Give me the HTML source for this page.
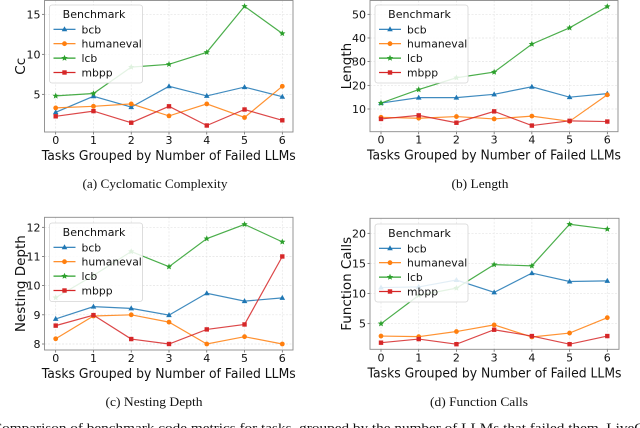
<!DOCTYPE html>
<html><head><meta charset="utf-8">
<style>
html,body{margin:0;padding:0;background:#fff;width:640px;height:428px;overflow:hidden}
svg{display:block}
.t{font-family:"DejaVu Sans","Liberation Sans",sans-serif;fill:#111}
.s{font-family:"Liberation Serif",serif;fill:#111}
</style></head><body>
<svg id="fig" width="640" height="428" viewBox="0 0 640 428" xmlns="http://www.w3.org/2000/svg"></svg>
<script>
const categories = [0,1,2,3,4,5,6];
const seriesNames = ["bcb","humaneval","lcb","mbpp"];
const seriesColors = ["#1f77b4","#ff7f0e","#2ca02c","#d62728"];
// (a) Cyclomatic Complexity
const ccBcb = [2.75,4.75,3.4,6.0,4.8,5.9,4.7];
const ccHumaneval = [3.3,3.5,3.8,2.3,3.8,2.1,6.0];
const ccLcb = [4.8,5.1,8.4,8.75,10.25,16.0,12.6];
const ccMbpp = [2.25,2.9,1.45,3.5,1.1,3.1,1.75];
const ccTicks = [5,10,15];
// (b) Length
const lenBcb = [12.5,14.8,14.8,16.2,19.4,15.0,16.5];
const lenHumaneval = [6.5,6.1,6.8,5.8,7.0,4.8,16.0];
const lenLcb = [12.5,18.2,23.2,25.6,37.4,44.3,53.3];
const lenMbpp = [5.8,7.3,4.2,9.0,3.0,5.0,4.7];
const lenTicks = [10,20,30,40,50];
// (c) Nesting Depth
const ndBcb = [8.86,9.28,9.22,8.99,9.74,9.47,9.58];
const ndHumaneval = [8.18,8.96,9.0,8.75,8.0,8.25,8.0];
const ndLcb = [9.59,10.35,11.17,10.65,11.61,12.1,11.5];
const ndMbpp = [8.63,8.99,8.17,8.0,8.5,8.67,11.0];
const ndTicks = [8,9,10,11,12];
// (d) Function Calls
const fcBcb = [11.0,11.1,12.25,10.2,13.4,12.0,12.1];
const fcHumaneval = [2.95,2.85,3.7,4.8,2.8,3.45,6.0];
const fcLcb = [5.0,9.7,10.9,14.8,14.6,21.5,20.7];
const fcMbpp = [1.85,2.45,1.6,4.0,2.95,1.6,2.95];
const fcTicks = [5,10,15,20];

const NS="http://www.w3.org/2000/svg";
const svg=document.getElementById('fig');
function mk(tag,attrs,parent){const e=document.createElementNS(NS,tag);for(const k in attrs)e.setAttribute(k,attrs[k]);(parent||svg).appendChild(e);return e;}

const panels=[
 {id:"cc",ylabel:"Cc",caption:"(a) Cyclomatic Complexity",capw:145,series:[ccBcb,ccHumaneval,ccLcb,ccMbpp],ticks:ccTicks,
  box:[44.5,0.5,293,132],x0:55.7,x6:282.3,yv:[5,10],yp:[94.3,54.3],cap:[155,188],leg:[49.5,5,93,78],ylx:20},
 {id:"len",ylabel:"Length",caption:"(b) Length",capw:57,series:[lenBcb,lenHumaneval,lenLcb,lenMbpp],ticks:lenTicks,
  box:[370,0.5,618,131.7],x0:381,x6:607.3,yv:[10,50],yp:[109,14.3],cap:[480,188],leg:[375,5,93,78],ylx:346},
 {id:"nd",ylabel:"Nesting Depth",caption:"(c) Nesting Depth",capw:97,series:[ndBcb,ndHumaneval,ndLcb,ndMbpp],ticks:ndTicks,
  box:[44.5,217.3,293,350],x0:55.7,x6:282.3,yv:[8,12],yp:[344,227.3],cap:[154,406],leg:[49.5,223,93,78.5],ylx:20},
 {id:"fc",ylabel:"Function Calls",caption:"(d) Function Calls",capw:98,series:[fcBcb,fcHumaneval,fcLcb,fcMbpp],ticks:fcTicks,
  box:[370,218.3,619,349.3],x0:381,x6:607.3,yv:[5,20],yp:[323.7,233.3],cap:[479,406],leg:[375,224,93,78],ylx:346}
];

function marker(g,kind,x,y,c){
  let m;
  if(kind===0){m=mk('polygon',{points:`${x},${y-3} ${x-2.8},${y+2} ${x+2.8},${y+2}`,fill:c},g);}
  else if(kind===1){m=mk('circle',{cx:x,cy:y,r:2.4,fill:c},g);}
  else if(kind===2){const p=[];for(let i=0;i<10;i++){const r=i%2?1.5:3.3,a=-Math.PI/2+i*Math.PI/5;p.push((x+r*Math.cos(a)).toFixed(2)+','+(y+r*Math.sin(a)).toFixed(2));}m=mk('polygon',{points:p.join(' '),fill:c},g);}
  else {m=mk('rect',{x:x-2.2,y:y-2.2,width:4.4,height:4.4,fill:c},g);}
  
  
}

panels.forEach(p=>{
  const g=mk('g',{});
  
  
  const [bx0,by0,bx1,by1]=p.box;
  const xs=i=>p.x0+(p.x6-p.x0)*i/6;
  const k=(p.yp[1]-p.yp[0])/(p.yv[1]-p.yv[0]);
  const ys=v=>p.yp[0]+(v-p.yv[0])*k;
  categories.forEach((c,i)=>{const l=mk('line',{x1:xs(i),x2:xs(i),y1:by0,y2:by1,stroke:'#e4e4e4','stroke-width':0.7,'stroke-dasharray':'2,1.5'},g);
    
    const t=mk('text',{x:xs(i),y:by1+12,'text-anchor':'middle','font-size':11,class:'t'},g);t.textContent=c;
    
    mk('line',{x1:xs(i),x2:xs(i),y1:by1,y2:by1+2.5,stroke:'#555','stroke-width':0.7},g);});
  p.ticks.forEach(v=>{const y=ys(v);const l=mk('line',{x1:bx0,x2:bx1,y1:y,y2:y,stroke:'#e4e4e4','stroke-width':0.7,'stroke-dasharray':'2,1.5'},g);
    
    mk('line',{x1:bx0-2.5,x2:bx0,y1:y,y2:y,stroke:'#555','stroke-width':0.7},g);
    const t=mk('text',{x:bx0-4,y:y+4,'text-anchor':'end','font-size':11,class:'t'},g);t.textContent=v;
    });
  p.series.forEach((arr,si)=>{
    const c=seriesColors[si];
    const pl=mk('polyline',{points:arr.map((v,i)=>xs(i).toFixed(2)+','+ys(v).toFixed(2)).join(' '),fill:'none',stroke:c,'stroke-width':1.2,'stroke-opacity':0.85},g);
    
    
    arr.forEach((v,i)=>marker(g,si,xs(i),ys(v),c));
  });
  const fr=mk('rect',{x:bx0,y:by0,width:bx1-bx0,height:by1-by0,fill:'none',stroke:'#8a8a8a','stroke-width':0.9},g);
  
  const [lx,ly,lw,lh]=p.leg;
  const lg=mk('g',{},g);
  
  mk('rect',{x:lx,y:ly,width:lw,height:lh,rx:2.5,fill:'#fff','fill-opacity':0.85,stroke:'#d5d5d5','stroke-width':0.8},lg);
  const tt=mk('text',{x:lx+lw/2-2,y:ly+13,'text-anchor':'middle','font-size':11,class:'t'},lg);tt.textContent='Benchmark';
  
  seriesNames.forEach((n,si)=>{const y=ly+24.3+si*14.4;
    const e=mk('g',{},lg);
    mk('line',{x1:lx+4,x2:lx+26,y1:y,y2:y,stroke:seriesColors[si],'stroke-width':1.2},e);
    marker(e,si,lx+15,y,seriesColors[si]);
    const t=mk('text',{x:lx+32,y:y+4,'font-size':10.8,class:'t'},e);t.textContent=n;});
  const xt=mk('text',{x:(bx0+bx1)/2,y:by1+28,'text-anchor':'middle','font-size':13,class:'t',textLength:254,lengthAdjust:'spacingAndGlyphs'},g);
  xt.textContent='Tasks Grouped by Number of Failed LLMs';
  
  const cy=(by0+by1)/2;
  const yt=mk('text',{x:p.ylx,y:cy,'text-anchor':'middle','font-size':13.5,class:'t',transform:`rotate(-90 ${p.ylx} ${cy}) translate(0 5)`},g);
  yt.textContent=p.ylabel;
  
  const cp=mk('text',{x:p.cap[0],y:p.cap[1],'text-anchor':'middle','font-size':13,class:'s',textLength:p.capw,lengthAdjust:'spacingAndGlyphs'},g);
  cp.textContent=p.caption;
  
});
const fc=mk('text',{x:-8,y:432,'font-size':12.5,class:'s',textLength:660,lengthAdjust:'spacingAndGlyphs'});
fc.textContent='Comparison of benchmark code metrics for tasks, grouped by the number of LLMs that failed them. LiveCo';


</script>
</body></html>
